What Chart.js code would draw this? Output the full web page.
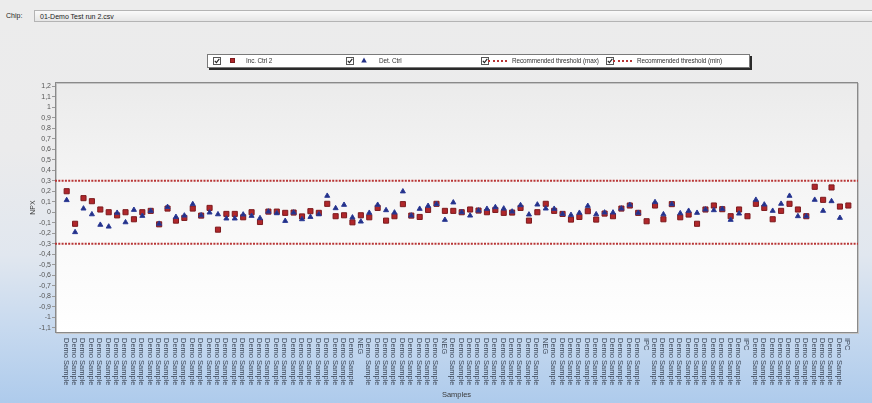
<!DOCTYPE html>
<html>
<head>
<meta charset="utf-8">
<script src="https://cdn.jsdelivr.net/npm/chart.js@4/dist/chart.umd.min.js"></script>
<style>
  html, body { margin: 0; padding: 0; }
  body {
    width: 872px; height: 403px; position: relative; overflow: hidden;
    font-family: "Liberation Sans", Arial, sans-serif;
    background: linear-gradient(to bottom, #ececec 0px, #ebebec 150px, #e1e7ef 255px, #c8daef 325px, #aecbec 403px);
  }
  #toolbar { position: absolute; left: 0; top: 0; width: 872px; height: 30px; background: #ececec; }
  #toolbar .lbl { position: absolute; left: 6px; top: 12px; font-size: 7px; color: #222; }
  #toolbar .field {
    position: absolute; left: 34px; top: 10px; width: 838px; height: 12px;
    border: 1px solid #b4b4b4; border-right: none;
    background: linear-gradient(to bottom, #fafafa, #e6e6e6);
    font-size: 7px; color: #222; line-height: 12px; padding-left: 5px; box-sizing: border-box;
  }
  #chartWrap { position: absolute; left: 0; top: 30px; width: 872px; height: 373px; }
  #legend {
    position: absolute; left: 207px; top: 54px; width: 543px; height: 14px;
    background: #fff; border: 1px solid #7a7a7a; box-sizing: border-box;
    box-shadow: 2px 2px 0 #2a2a2a; font-size: 6.4px; letter-spacing: -0.1px; color: #333;
  }
  #legend svg { position: absolute; top: 2px; }
  #legend .txt { position: absolute; top: 2px; white-space: nowrap; line-height: 8px; }
  #legend .sq { position: absolute; top: 3px; width: 5px; height: 5px; background: #b0272b; border: 0.5px solid #7c1a1d; box-sizing: border-box; }
  #legend .dots { position: absolute; top: 5px; width: 19px; height: 0; border-top: 2px dotted #b83434; }
</style>
</head>
<body>
<div id="toolbar">
  <div class="lbl">Chip:</div>
  <div class="field">01-Demo Test run 2.csv</div>
</div>
<div id="chartWrap"><canvas id="npx"></canvas></div>
<div id="legend"></div>

<script>
// ─── Data ────────────────────────────────────────────────────────────────────
const D = "Demo Sample";
const SAMPLES = [
    D, D, D, D, D, D, D, D, D, D,
    D, D, D, D, D, D, D, D, D, D,
    D, D, D, D, D, D, D, D, D, D,
    D, D, D, D, D, "NEG", D, D, D, D,
    D, D, D, D, D, "NEG", D, D, D, D,
    D, D, D, D, D, D, D, "NEG", D, D,
    D, D, D, D, D, D, D, D, D, "IPC",
    D, D, D, D, D, D, D, D, D, D,
    D, "IPC", D, D, D, D, D, D, D, D,
    D, D, D, "IPC",
];

const INC_CTRL_2 = [
    0.200, -0.110, 0.134, 0.105, 0.026, 0.000, -0.030, 0.000, -0.067, 0.000,
    0.013, -0.115, 0.035, -0.080, -0.054, 0.035, -0.032, 0.041, -0.166, -0.016,
    -0.016, -0.048, 0.000, -0.093, 0.006, 0.006, -0.006, -0.003, -0.040, 0.010,
    -0.006, 0.080, -0.038, -0.029, -0.096, -0.029, -0.048, 0.041, -0.080, -0.038,
    0.077, -0.032, -0.045, 0.022, 0.080, 0.013, 0.013, 0.000, 0.026, 0.016,
    0.000, 0.022, -0.006, -0.003, 0.041, -0.080, 0.000, 0.080, 0.013, -0.016,
    -0.070, -0.045, 0.010, -0.070, -0.013, -0.038, 0.035, 0.064, -0.006, -0.086,
    0.064, -0.067, 0.077, -0.048, -0.022, -0.110, 0.026, 0.064, 0.029, -0.038,
    0.026, -0.038, 0.080, 0.041, -0.067, 0.013, 0.080, 0.026, -0.038, 0.242,
    0.118, 0.236, 0.054, 0.064,
];

const DET_CTRL = [
    0.115, -0.190, 0.035, -0.020, -0.120, -0.137, -0.006, -0.096, 0.022, -0.035,
    0.013, -0.110, 0.050, -0.045, -0.032, 0.077, -0.030, -0.003, -0.020, -0.060,
    -0.060, -0.022, -0.035, -0.057, 0.006, -0.010, -0.083, -0.003, -0.067, -0.045,
    -0.020, 0.156, 0.038, 0.070, -0.050, -0.089, -0.006, 0.070, 0.019, -0.003,
    0.198, -0.032, 0.032, 0.060, 0.077, -0.073, 0.093, 0.000, -0.032, 0.016,
    0.032, 0.048, 0.035, 0.006, 0.067, -0.022, 0.073, 0.035, 0.032, -0.016,
    -0.026, -0.006, 0.060, -0.020, -0.003, -0.003, 0.035, 0.070, -0.006, null,
    0.096, -0.020, 0.077, -0.010, 0.013, -0.006, 0.026, 0.019, 0.032, -0.073,
    -0.013, null, 0.118, 0.073, 0.013, 0.080, 0.156, -0.038, -0.038, 0.118,
    0.013, 0.105, -0.054, null,
];

const THRESHOLD_MAX = 0.3;
const THRESHOLD_MIN = -0.3;

// ─── Axis bounds ─────────────────────────────────────────────────────────────
const X_MIN = -1.39, X_MAX = 94.15;
const Y_MIN = -1.15, Y_MAX = 1.24;

const FONT = "Liberation Sans";
const RED = "#b0272b", NAVY = "#233086", DOT_RED = "#b83434";

const toPoints = arr => arr.map((y, i) => ({ x: i, y }));
const fmtTick = v => String(Math.round(v * 10) / 10).replace(".", ",");

// plot area fill + frame
const plotFrame = {
    id: "plotFrame",
    beforeDraw(chart) {
        const { ctx, chartArea: { left, top, right, bottom } } = chart;
        const g = ctx.createLinearGradient(0, top, 0, bottom);
        g.addColorStop(0, "#ebebeb");
        g.addColorStop(0.55, "#f8f8f8");
        g.addColorStop(1, "#ffffff");
        ctx.save();
        ctx.fillStyle = g;
        ctx.fillRect(left, top, right - left, bottom - top);
        ctx.strokeStyle = "#c4c4c4";
        ctx.strokeRect(left + 1.5, top + 1.5, right - left - 1, bottom - top - 1);
        ctx.strokeStyle = "#8a8a8a";
        ctx.strokeRect(left + 0.5, top + 0.5, right - left - 1, bottom - top - 1);
        ctx.restore();
    },
};

// sample names under the plot, reading downwards
const sampleLabels = {
    id: "sampleLabels",
    afterDraw(chart) {
        const { ctx, chartArea, scales: { x } } = chart;
        ctx.save();
        ctx.font = `7.5px "${FONT}"`;
        ctx.fillStyle = "#3c4656";
        ctx.textAlign = "left";
        ctx.textBaseline = "middle";
        SAMPLES.forEach((name, i) => {
            ctx.save();
            ctx.translate(x.getPixelForValue(i) - 1, chartArea.bottom + 5);
            ctx.rotate(Math.PI / 2);
            ctx.fillText(name, 0, 0);
            ctx.restore();
        });
        ctx.restore();
    },
};

const datasets = [
    {
        label: "Inc. Ctrl 2",
        data: toPoints(INC_CTRL_2),
        pointStyle: "rect",
        pointRadius: 3.6,
        backgroundColor: RED,
        borderColor: "#7c1a1d",
        borderWidth: 1,
        order: 1,
    },
    {
        label: "Det. Ctrl",
        data: toPoints(DET_CTRL),
        pointStyle: "triangle",
        pointRadius: 2.9,
        backgroundColor: NAVY,
        borderColor: "#2b3a96",
        borderWidth: 1,
        order: 0,
    },
    {
        label: "Recommended threshold (max)",
        type: "line",
        data: [{ x: X_MIN, y: THRESHOLD_MAX }, { x: X_MAX, y: THRESHOLD_MAX }],
        borderColor: DOT_RED,
        borderWidth: 2,
        borderDash: [2, 1.3],
        pointRadius: 0,
        order: 2,
    },
    {
        label: "Recommended threshold (min)",
        type: "line",
        data: [{ x: X_MIN, y: THRESHOLD_MIN }, { x: X_MAX, y: THRESHOLD_MIN }],
        borderColor: DOT_RED,
        borderWidth: 2,
        borderDash: [2, 1.3],
        pointRadius: 0,
        order: 2,
    },
];

const chart = new Chart(document.getElementById("npx"), {
    type: "scatter",
    data: { datasets },
    options: {
        responsive: true,
        maintainAspectRatio: false,
        animation: false,
        layout: { padding: { top: 52, right: 14, left: 0, bottom: 0 } },
        plugins: {
            legend: { display: false },
            tooltip: { enabled: false },
        },
        scales: {
            x: {
                type: "linear",
                min: X_MIN,
                max: X_MAX,
                afterFit: s => { s.height = 70; },
                ticks: { display: false },
                grid: { display: false },
                border: { display: false },
                title: {
                    display: true, text: "Samples", color: "#3a3a3a",
                    font: { family: FONT, size: 7.5 },
                    padding: { top: 0, bottom: 4 },
                },
            },
            y: {
                min: Y_MIN,
                max: Y_MAX,
                afterFit: s => { s.width = 55; },
                afterBuildTicks: s => {
                    s.ticks = s.ticks.filter(t => Math.abs(t.value * 10 - Math.round(t.value * 10)) < 1e-6);
                },
                ticks: {
                    stepSize: 0.1, includeBounds: false, autoSkip: false,
                    color: "#555", padding: 1,
                    font: { family: FONT, size: 7 },
                    callback: v => fmtTick(v),
                },
                grid: { drawOnChartArea: false, drawTicks: true, tickLength: 3, color: "#9a9a9a" },
                border: { display: false },
                title: {
                    display: true, text: "NPX", color: "#3a3a3a",
                    font: { family: FONT, size: 7 },
                    padding: { top: 29, bottom: 0 },
                },
            },
        },
    },
    plugins: [plotFrame, sampleLabels],
});

// ─── Legend strip (checkbox style, like the original) ───────────────────────
const CHECK = '<svg width="8" height="8"><rect x=".5" y=".5" width="7" height="7" fill="#fff" stroke="#555"/>' +
              '<path d="M1.8 3.8l1.6 1.8L6.3 1.8" stroke="#222" stroke-width="1.1" fill="none"/></svg>';
const TRI = `<svg width="6" height="6"><polygon points="3,0.5 5.8,5.5 0.2,5.5" fill="${NAVY}"/></svg>`;
const legendSlots = [
    { box: 5,   sym: 22,  txt: 38,  kind: "sq" },
    { box: 138, sym: 153, txt: 171, kind: "tri" },
    { box: 273, sym: 280, txt: 304, kind: "dots" },
    { box: 398, sym: 405, txt: 429, kind: "dots" },
];
const legendEl = document.getElementById("legend");
chart.data.datasets.forEach((ds, i) => {
    const s = legendSlots[i];
    let sym = "";
    if (s.kind === "sq")   sym = `<div class="sq" style="left:${s.sym}px"></div>`;
    if (s.kind === "tri")  sym = `<div style="position:absolute;left:${s.sym}px;top:0">${TRI}</div>`;
    if (s.kind === "dots") sym = `<div class="dots" style="left:${s.sym}px"></div>`;
    legendEl.insertAdjacentHTML("beforeend",
        `<div style="position:absolute;left:${s.box}px;top:0">${CHECK}</div>${sym}` +
        `<div class="txt" style="left:${s.txt}px">${ds.label}</div>`);
});
</script>
</body>
</html>
